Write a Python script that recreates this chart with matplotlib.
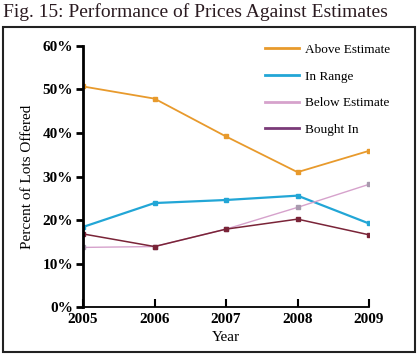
import matplotlib
matplotlib.use('Agg')
import matplotlib.pyplot as plt
from matplotlib.patches import Rectangle

years = [2005, 2006, 2007, 2008, 2009]
year_labels = ['2005', '2006', '2007', '2008', '2009']
above = [50.7, 47.9, 39.2, 31.0, 35.9]
in_range = [18.4, 23.9, 24.6, 25.6, 19.2]
below = [13.7, 13.9, 17.9, 22.9, 28.2]
bought_in = [16.8, 13.9, 17.9, 20.2, 16.6]

plt.rcParams['font.family'] = ['Liberation Serif', 'DejaVu Serif']

fig = plt.figure(figsize=(4.18, 3.56), dpi=100)
ax = fig.add_axes([0.1986, 0.1376, 0.6842, 0.7332])

ax.plot(years, above, '-s', color='#E89A2C', lw=1.3, ms=3, label='Above Estimate')
ax.plot(years, in_range, '-s', color='#22A6D6', lw=1.6, ms=3.5, label='In Range')
ax.plot(years, below, '-s', color='#D6A2CC', lw=1.0, ms=3, mfc='#A89AAE', mec='#A89AAE',
        label='Below Estimate')
ax.plot(years, bought_in, '-s', color='#7A2438', lw=1.1, ms=3, label='Bought In')

ax.set_xlim(2005, 2009)
ax.set_ylim(0, 60)
ax.set_xticks(years)
ax.set_xticklabels(year_labels, fontweight='bold', fontsize=11)
ax.set_yticks(range(0, 70, 10))
ax.set_yticklabels(['%d%%' % v for v in range(0, 70, 10)], fontweight='bold', fontsize=11)

for s in ['top', 'right']:
    ax.spines[s].set_visible(False)
ax.spines['left'].set_linewidth(2)
ax.spines['bottom'].set_linewidth(1.3)
ax.tick_params(axis='y', direction='out', length=5, width=2, pad=2)
ax.tick_params(axis='x', direction='in', length=6, width=1.5, pad=4)

ax.set_xlabel('Year', fontsize=11, labelpad=4)
ax.set_ylabel('Percent of Lots Offered', fontsize=11, labelpad=6)

leg = ax.legend(loc='upper left', bbox_to_anchor=(0.595, 1.055), frameon=False,
                fontsize=9.5, handlelength=2.6, labelspacing=1.1, handletextpad=0.45)
for h, c in zip(leg.get_lines(), ['#E89A2C', '#22A6D6', '#D6A2CC', '#7A3A78']):
    h.set_marker('')
    h.set_color(c)
    h.set_linewidth(2)

fig.text(0.008, 0.965, 'Fig. 15: Performance of Prices Against Estimates',
         fontsize=14, color='#2A1A20', va='center', ha='left')
fig.patches.append(Rectangle((0.007, 0.01), 0.985, 0.915, transform=fig.transFigure,
                             fill=False, edgecolor='#222222', lw=1.5))

fig.savefig('out.png', dpi=100)
